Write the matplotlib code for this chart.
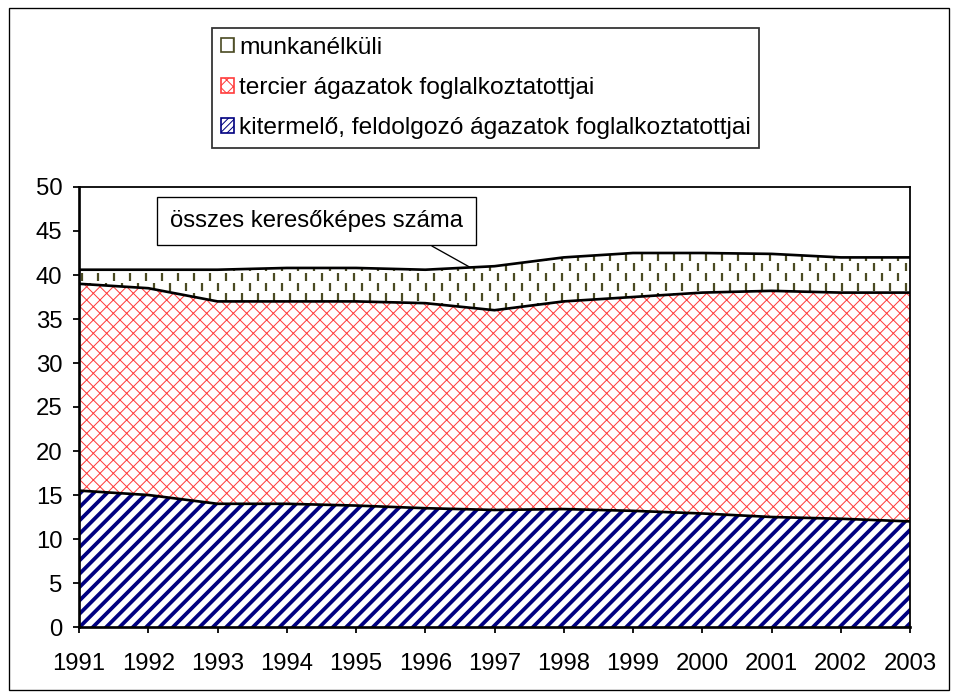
import numpy as np
import matplotlib
matplotlib.use("Agg")
import matplotlib.pyplot as plt
from matplotlib.patches import Patch, Rectangle

# data
years = [1991, 1992, 1993, 1994, 1995, 1996, 1997, 1998, 1999, 2000, 2001, 2002, 2003]
kitermelo = [15.5, 15.0, 14.0, 14.0, 13.8, 13.5, 13.3, 13.4, 13.2, 12.9, 12.5, 12.3, 12.0]
tercier = [23.5, 23.5, 23.0, 23.0, 23.2, 23.3, 22.7, 23.6, 24.3, 25.1, 25.7, 25.7, 26.0]
munkanelkuli = [1.6, 2.1, 3.6, 3.8, 3.8, 3.8, 5.0, 5.0, 5.0, 4.5, 4.2, 4.0, 4.0]

labels = [
    "munkanélküli",
    "tercier ágazatok foglalkoztatottjai",
    "kitermelő, feldolgozó ágazatok foglalkoztatottjai",
]
annot_text = "összes keresőképes száma"

plt.rcParams["font.family"] = ["Liberation Sans", "DejaVu Sans"]
FS = 21.5

DPI = 80
fig = plt.figure(figsize=(956 / DPI, 698 / DPI), dpi=DPI)
ax = fig.add_axes([79 / 956, 1 - 627 / 698, 831 / 956, 440 / 698])

x = np.array(years, dtype=float)
b1 = np.array(kitermelo)
b2 = b1 + np.array(tercier)
b3 = b2 + np.array(munkanelkuli)


def hatch_lw(artist, lw):
    if hasattr(artist, "set_hatch_linewidth"):
        artist.set_hatch_linewidth(lw)


plt.rcParams["hatch.linewidth"] = 3.4
f1 = ax.fill_between(x, 0, b1, facecolor="white", edgecolor="#000080", hatch="//", linewidth=0)
hatch_lw(f1, 3.4)
plt.rcParams["hatch.linewidth"] = 0.9
f2 = ax.fill_between(x, b1, b2, facecolor="white", edgecolor="#ff3c3c", hatch="xx", linewidth=0)
hatch_lw(f2, 0.9)
f3 = ax.fill_between(x, b2, b3, facecolor="white", linewidth=0)

# short vertical dashes texture for the unemployed band
px_x = 831 / 12.0
px_y = 440 / 50.0
dx = 16 / px_x
dy = 10 / px_y
gx, gy = [], []
for i, yy in enumerate(np.arange(-dy, 55, dy)):
    off = (dx / 2) * (i % 2)
    xs = np.arange(1991 + 3 / px_x + off, 2003, dx)
    gx.extend(xs)
    gy.extend([yy] * len(xs))
dash, = ax.plot(gx, gy, ls="none", marker="|", markersize=6.5, mew=2.0, color="#4a4a22")
dash.set_clip_path(f3.get_paths()[0], ax.transData)

for top in (b1, b2, b3):
    ax.plot(x, top, color="black", lw=2.4, solid_joinstyle="round")

ax.set_xlim(1991, 2003)
ax.set_ylim(0, 50)
ax.set_xticks(years)
ax.set_yticks(np.arange(0, 51, 5))
ax.tick_params(direction="out", length=5, width=1.6, labelsize=FS)
ax.tick_params(axis="x", pad=18)
ax.tick_params(axis="y", pad=10)
for s in ("left", "bottom"):
    ax.spines[s].set_linewidth(2.4)
for s in ("top", "right"):
    ax.spines[s].set_linewidth(1.6)

# annotation box
xp = 1996.65
ax.annotate(
    annot_text,
    xy=(xp, np.interp(xp, x, b3)),
    xytext=(1994.43, 46.1),
    textcoords="data",
    ha="center",
    va="center",
    fontsize=FS,
    bbox=dict(boxstyle="square,pad=0.55", fc="white", ec="black", lw=1.2),
    arrowprops=dict(arrowstyle="-", color="black", lw=1.2, relpos=(0.81, 0.0),
                    shrinkA=0, shrinkB=0),
)

# legend
handles = [
    Patch(facecolor="white", edgecolor="#4a4a22", hatch="|", linewidth=1.5),
    Patch(facecolor="white", edgecolor="#ff3c3c", hatch="xx", linewidth=1.5),
    Patch(facecolor="white", edgecolor="#000080", hatch="////", linewidth=1.5),
]
for h in handles:
    if hasattr(h, "set_hatchcolor"):
        hc = h.get_edgecolor()
        h.set_hatchcolor(hc)
        h.set_edgecolor("black")
leg = fig.legend(
    handles,
    labels,
    loc="upper left",
    bbox_to_anchor=(212 / 956, 1 - 28 / 698),
    fontsize=22,
    frameon=True,
    fancybox=False,
    handlelength=0.55,
    handleheight=0.55,
    handletextpad=0.2,
    labelspacing=0.75,
    borderpad=0.35,
    borderaxespad=0,
)
leg.get_frame().set_edgecolor("black")
leg.get_frame().set_linewidth(1.6)

# outer border
fig.add_artist(Rectangle((9 / 956, 8 / 698), 940 / 956, 682 / 698, transform=fig.transFigure,
                         fill=False, ec="black", lw=1.2))

fig.savefig("out.png", dpi=DPI)
